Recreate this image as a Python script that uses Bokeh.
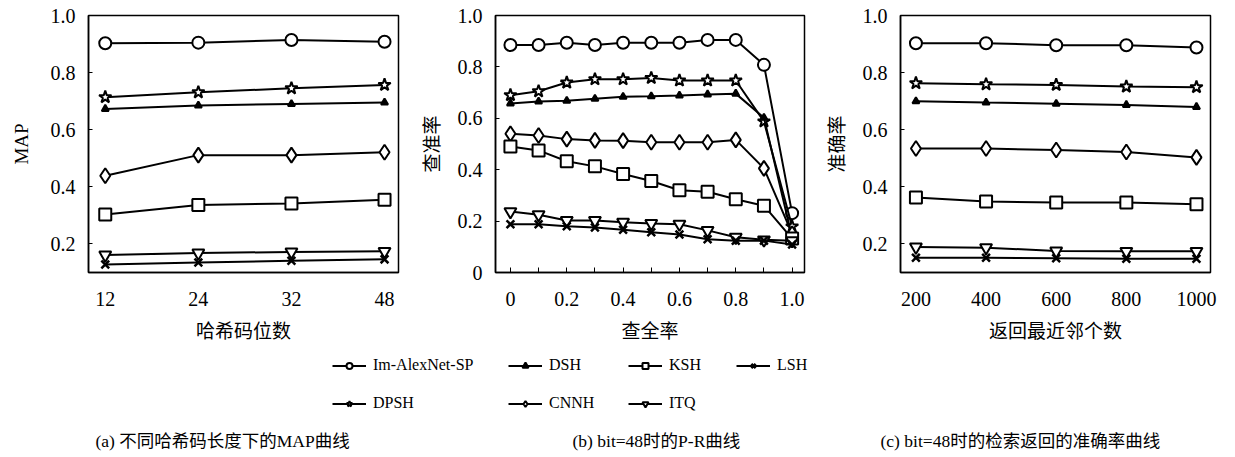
from bokeh.plotting import figure
from bokeh.layouts import column, row
from bokeh.models import FixedTicker, Range1d, Legend, LegendItem, Label
from bokeh.embed import file_html
from bokeh.resources import INLINE

# ---------------- data ----------------
methods = ["Im-AlexNet-SP", "DPSH", "DSH", "CNNH", "KSH", "ITQ", "LSH"]

# (a) MAP vs hash code length
bits = ["12", "24", "32", "48"]
map_alex = [0.903, 0.905, 0.914, 0.908]
map_dpsh = [0.714, 0.731, 0.745, 0.757]
map_dsh = [0.673, 0.685, 0.690, 0.695]
map_cnnh = [0.439, 0.511, 0.511, 0.521]
map_ksh = [0.303, 0.336, 0.342, 0.355]
map_itq = [0.161, 0.168, 0.172, 0.174]
map_lsh = [0.128, 0.135, 0.141, 0.146]

# (b) P-R curve, bit = 48
recall = [0.0, 0.1, 0.2, 0.3, 0.4, 0.5, 0.6, 0.7, 0.8, 0.9, 1.0]
pr_alex = [0.885, 0.885, 0.894, 0.885, 0.894, 0.894, 0.894, 0.905, 0.905, 0.808, 0.231]
pr_dpsh = [0.690, 0.705, 0.739, 0.752, 0.752, 0.757, 0.747, 0.747, 0.747, 0.588, 0.179]
pr_dsh = [0.658, 0.665, 0.668, 0.676, 0.684, 0.686, 0.689, 0.693, 0.696, 0.602, 0.137]
pr_cnnh = [0.540, 0.533, 0.519, 0.514, 0.513, 0.507, 0.507, 0.507, 0.516, 0.405, 0.151]
pr_ksh = [0.490, 0.475, 0.433, 0.413, 0.383, 0.356, 0.320, 0.314, 0.285, 0.260, 0.132]
pr_itq = [0.237, 0.225, 0.202, 0.202, 0.196, 0.191, 0.188, 0.164, 0.137, 0.127, 0.124]
pr_lsh = [0.188, 0.188, 0.180, 0.175, 0.166, 0.157, 0.148, 0.129, 0.124, 0.124, 0.109]

# (c) precision vs number of returned neighbours, bit = 48
topk = [200, 400, 600, 800, 1000]
pk_alex = [0.903, 0.903, 0.896, 0.896, 0.888]
pk_dpsh = [0.763, 0.759, 0.757, 0.751, 0.749]
pk_dsh = [0.700, 0.695, 0.691, 0.687, 0.680]
pk_cnnh = [0.534, 0.534, 0.529, 0.522, 0.503]
pk_ksh = [0.363, 0.349, 0.345, 0.345, 0.339]
pk_itq = [0.189, 0.187, 0.175, 0.174, 0.174]
pk_lsh = [0.152, 0.152, 0.150, 0.148, 0.148]

x_labels = ["哈希码位数", "查全率", "返回最近邻个数"]
y_labels = ["MAP", "查准率", "准确率"]
captions = ["(a) 不同哈希码长度下的MAP曲线", "(b) bit=48时的P-R曲线", "(c) bit=48时的检索返回的准确率曲线"]

# ---------------- styles ----------------
SERIF = "Liberation Serif"
MIXED = "'Liberation Serif', 'Noto Sans CJK SC'"
CJK = "Noto Sans CJK SC"

marker_style = {
    "Im-AlexNet-SP": dict(marker="circle", size=12, fill_color="white"),
    "DPSH": dict(marker="star", size=13, fill_color="white"),
    "DSH": dict(marker="triangle", size=7, fill_color="black"),
    "CNNH": dict(marker="diamond", size=15, fill_color="white"),
    "KSH": dict(marker="square", size=12, fill_color="white"),
    "ITQ": dict(marker="inverted_triangle", size=12, fill_color="white"),
    "LSH": dict(marker="x", size=11, fill_color="white"),
}


def draw_series(p, xs, ys_list):
    rs = {}
    for name, ys in zip(methods, ys_list):
        st = marker_style[name]
        lr = p.line(xs, ys, line_color="black", line_width=2)
        sr = p.scatter(xs, ys, marker=st["marker"], size=st["size"],
                       fill_color=st["fill_color"], line_color="black",
                       line_width=2 if st["marker"] != "x" else 2.5)
        rs[name] = (lr, sr)
    return rs


def style(p, xlab, ylab, xticks, yticks, x_major_in=0, x_minor=None):
    p.outline_line_color = "black"
    p.outline_line_width = 1.5
    p.xgrid.visible = False
    p.ygrid.visible = False
    p.background_fill_color = "white"
    p.border_fill_color = "white"
    for ax in (p.xaxis[0], p.yaxis[0]):
        ax.axis_line_color = "black"
        ax.axis_line_width = 1.5
        ax.major_tick_out = 0
        ax.minor_tick_out = 0
        ax.minor_tick_in = 0
        ax.major_label_text_font = SERIF
        ax.major_label_text_font_size = "20px"
        ax.major_label_text_color = "black"
        ax.axis_label_text_font_style = "normal"
        ax.axis_label_text_color = "black"
    p.xaxis[0].major_tick_in = x_major_in
    p.xaxis[0].ticker = FixedTicker(ticks=xticks, minor_ticks=x_minor or [])
    if x_minor:
        p.xaxis[0].minor_tick_in = x_major_in
        p.xaxis[0].minor_tick_line_color = "black"
    p.yaxis[0].major_tick_in = 4
    p.yaxis[0].ticker = FixedTicker(ticks=yticks)
    p.xaxis[0].axis_label = xlab
    p.xaxis[0].axis_label_text_font = CJK
    p.xaxis[0].axis_label_text_font_size = "19px"
    p.xaxis[0].major_label_standoff = 19
    p.xaxis[0].axis_label_standoff = 7
    p.yaxis[0].axis_label = ylab
    p.yaxis[0].axis_label_text_font = MIXED
    p.yaxis[0].axis_label_text_font_size = "19px"
    p.yaxis[0].major_label_standoff = 13
    p.yaxis[0].axis_label_standoff = 14


common = dict(height=345, output_backend="svg", toolbar_location=None,
              min_border_top=15, min_border_bottom=73)

# (a)
xpos = list(range(len(bits)))
p1 = figure(width=410, x_range=Range1d(-0.18, 3.15), y_range=Range1d(0.1, 1.0),
            min_border_left=88, min_border_right=12, **common)
draw_series(p1, xpos, [map_alex, map_dpsh, map_dsh, map_cnnh, map_ksh, map_itq, map_lsh])
style(p1, x_labels[0], y_labels[0], xpos, [0.2, 0.4, 0.6, 0.8, 1.0])
p1.xaxis[0].major_label_overrides = {i: b for i, b in enumerate(bits)}
p1.yaxis[0].major_label_overrides = {1: "1.0"}
p1.yaxis[0].axis_label_text_font = SERIF
p1.yaxis[0].axis_label_standoff = 16

# (b)
p2 = figure(width=405, x_range=Range1d(-0.053, 1.044), y_range=Range1d(0.0, 1.0),
            min_border_left=85, min_border_right=11, **common)
draw_series(p2, recall, [pr_alex, pr_dpsh, pr_dsh, pr_cnnh, pr_ksh, pr_itq, pr_lsh])
style(p2, x_labels[1], y_labels[1], [0.0, 0.2, 0.4, 0.6, 0.8, 1.0], [0.0, 0.2, 0.4, 0.6, 0.8, 1.0],
      x_major_in=5, x_minor=[0.1, 0.3, 0.5, 0.7, 0.9])
p2.xaxis[0].major_label_overrides = {0: "0", 1: "1.0"}
p2.yaxis[0].major_label_overrides = {0: "0", 1: "1.0"}
p2.yaxis[0].axis_label_standoff = 12

# (c)
p3 = figure(width=420, x_range=Range1d(156, 1040), y_range=Range1d(0.1, 1.0),
            min_border_left=85, min_border_right=25, **common)
draw_series(p3, topk, [pk_alex, pk_dpsh, pk_dsh, pk_cnnh, pk_ksh, pk_itq, pk_lsh])
style(p3, x_labels[2], y_labels[2], topk, [0.2, 0.4, 0.6, 0.8, 1.0])
p3.yaxis[0].major_label_overrides = {1: "1.0"}
p3.yaxis[0].axis_label_standoff = 12

# ---------------- legend + captions ----------------
# the legend glyphs use panel (a)'s series, kept outside this figure's visible range
pl = figure(width=1235, height=112, x_range=Range1d(100, 101), y_range=Range1d(100, 101),
            x_axis_type=None, y_axis_type=None, output_backend="svg", toolbar_location=None,
            min_border_left=0, min_border_right=0, min_border_top=0, min_border_bottom=0)
pl.outline_line_color = None
pl.xgrid.visible = False
pl.ygrid.visible = False
legend_rs = draw_series(pl, xpos, [map_alex, map_dpsh, map_dsh, map_cnnh, map_ksh, map_itq, map_lsh])
items = {name: LegendItem(label=name, renderers=list(legend_rs[name])) for name in methods}

legend_cols = [["Im-AlexNet-SP", "DPSH"], ["DSH", "CNNH"], ["KSH", "ITQ"], ["LSH"]]
col_x = [332, 508, 628, 736]
for names, lx in zip(legend_cols, col_x):
    ly = 44 if len(names) == 2 else 82
    lg = Legend(items=[items[n] for n in names], location=(lx, ly), orientation="vertical",
                padding=0, margin=0, spacing=18, glyph_width=34, glyph_height=15,
                label_height=20, label_standoff=7, border_line_color=None,
                background_fill_alpha=0, label_text_font=SERIF, label_text_font_size="16px",
                label_text_color="black")
    pl.add_layout(lg, "center")

cap_x = [95, 572, 880]
for cx, txt in zip(cap_x, captions):
    pl.add_layout(Label(x=cx, y=17, x_units="screen", y_units="screen", text=txt,
                        text_font=MIXED, text_font_size="17.5px", text_baseline="middle",
                        text_color="black"))

layout = column(row(p1, p2, p3), pl)
open("out.html", "w").write(file_html(layout, INLINE))
